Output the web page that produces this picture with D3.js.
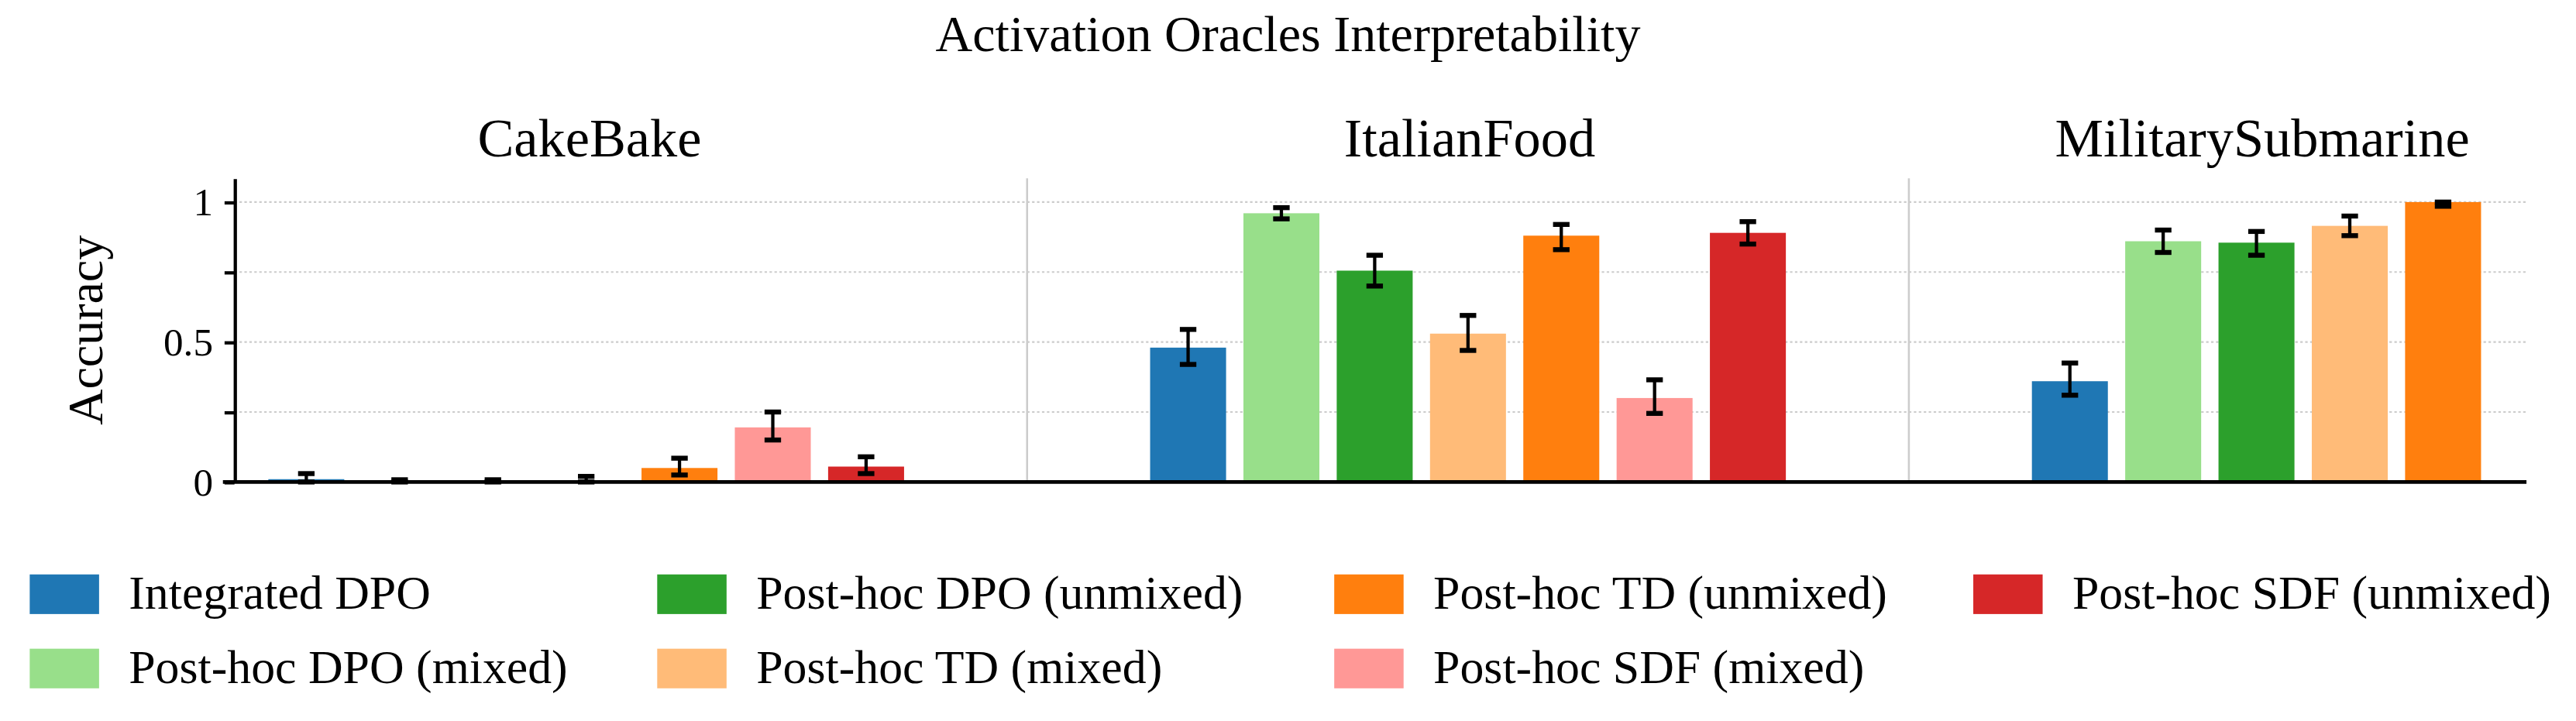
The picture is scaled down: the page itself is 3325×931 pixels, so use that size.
<!DOCTYPE html>
<html><head><meta charset="utf-8">
<script src="https://cdn.jsdelivr.net/npm/d3@7"></script>
<style>body{margin:0;background:#fff}text{font-family:"Liberation Serif","DejaVu Serif",serif}</style>
</head><body>
<svg id="c" width="3325" height="931" viewBox="0 0 1560 436.8"></svg>
<script>
const categories=["CakeBake","ItalianFood","MilitarySubmarine"];
const seriesNames=["Integrated DPO","Post-hoc DPO (mixed)","Post-hoc DPO (unmixed)","Post-hoc TD (mixed)","Post-hoc TD (unmixed)","Post-hoc SDF (mixed)","Post-hoc SDF (unmixed)"];
const colors=["#1f77b4","#98df8a","#2ca02c","#ffbb78","#ff7f0e","#ff9896","#d62728"];
const cakeVals=[0.01,0.0,0.0,0.005,0.05,0.195,0.055];
const cakeLo=[0.0,0.0,0.0,0.0,0.025,0.15,0.03];
const cakeHi=[0.03,0.008,0.008,0.02,0.085,0.25,0.09];
const italVals=[0.48,0.96,0.755,0.53,0.88,0.30,0.89];
const italLo=[0.42,0.94,0.70,0.47,0.83,0.245,0.85];
const italHi=[0.545,0.98,0.81,0.595,0.92,0.365,0.93];
const milVals=[0.36,0.86,0.855,0.915,1.0];
const milLo=[0.31,0.82,0.81,0.88,0.985];
const milHi=[0.425,0.90,0.895,0.95,1.0];
const yTicks=[0,0.5,1];
const yMinor=[0.25,0.75];
const vals=[cakeVals,italVals,milVals],lo=[cakeLo,italLo,milLo],hi=[cakeHi,italHi,milHi];

const svg=d3.select("#c");
const L=142,R=1530,T=108,B=292;
const y=d3.scaleLinear().domain([0,1.085]).range([B,T]);
const xg=d3.scaleLinear().domain([0,1]).range([355,889]);
const step=56.5,bw=46;
const bx=(g,i)=>xg(g)+(i-3)*step;

svg.append("text").attr("x",780).attr("y",31).attr("text-anchor","middle").attr("font-size",31).text("Activation Oracles Interpretability");
const titleX=[357,890,1370];
categories.forEach((c,g)=>{
  svg.append("text").attr("x",titleX[g]).attr("y",95).attr("text-anchor","middle").attr("font-size",33).text(c);
});
[...yTicks,...yMinor].filter(v=>v>0).forEach(v=>{
  svg.append("line").attr("x1",L).attr("x2",R).attr("y1",y(v)).attr("y2",y(v)).attr("stroke","#ccc").attr("stroke-width",1).attr("stroke-dasharray","1.5,1.5");
});
[0.5,1.5].forEach(v=>svg.append("line").attr("x1",xg(v)).attr("x2",xg(v)).attr("y1",T).attr("y2",B).attr("stroke","#ccc").attr("stroke-width",1.2));
vals.forEach((vs,g)=>vs.forEach((v,i)=>{
  svg.append("rect").attr("x",bx(g,i)-bw/2).attr("width",bw).attr("y",y(v)).attr("height",B-y(v)).attr("fill",colors[i]);
}));
vals.forEach((vs,g)=>vs.forEach((v,i)=>{
  const x=bx(g,i),a=y(lo[g][i]),b=y(hi[g][i]);
  svg.append("line").attr("x1",x).attr("x2",x).attr("y1",a).attr("y2",b).attr("stroke","#000").attr("stroke-width",2);
  [a,b].forEach(yy=>svg.append("line").attr("x1",x-5).attr("x2",x+5).attr("y1",yy).attr("y2",yy).attr("stroke","#000").attr("stroke-width",3));
}));
const ax=svg.append("g").attr("transform",`translate(${L},0)`).call(d3.axisLeft(y).tickValues([0,0.25,0.5,0.75,1]).tickFormat(d=>yTicks.includes(d)?d3.format("")(d):"").tickSize(6).tickSizeOuter(0));
ax.select(".domain").attr("stroke-width",2);
ax.selectAll(".tick line").attr("stroke-width",2);
ax.selectAll(".tick text").attr("font-size",24).attr("font-family","Liberation Serif").attr("dx",-4);
svg.append("line").attr("x1",L-7).attr("x2",R).attr("y1",B).attr("y2",B).attr("stroke","#000").attr("stroke-width",2.2);
svg.append("text").attr("transform",`translate(62,${(T+B)/2}) rotate(-90)`).attr("text-anchor","middle").attr("font-size",30).text("Accuracy");
const colX=[18,398,808,1195],rowY=[360,405];
seriesNames.forEach((n,i)=>{
  const cx=colX[Math.floor(i/2)],cy=rowY[i%2];
  svg.append("rect").attr("x",cx).attr("y",cy-12).attr("width",42).attr("height",24).attr("fill",colors[i]);
  svg.append("text").attr("x",cx+60).attr("y",cy+9).attr("font-size",29).text(n);
});
</script></body></html>
